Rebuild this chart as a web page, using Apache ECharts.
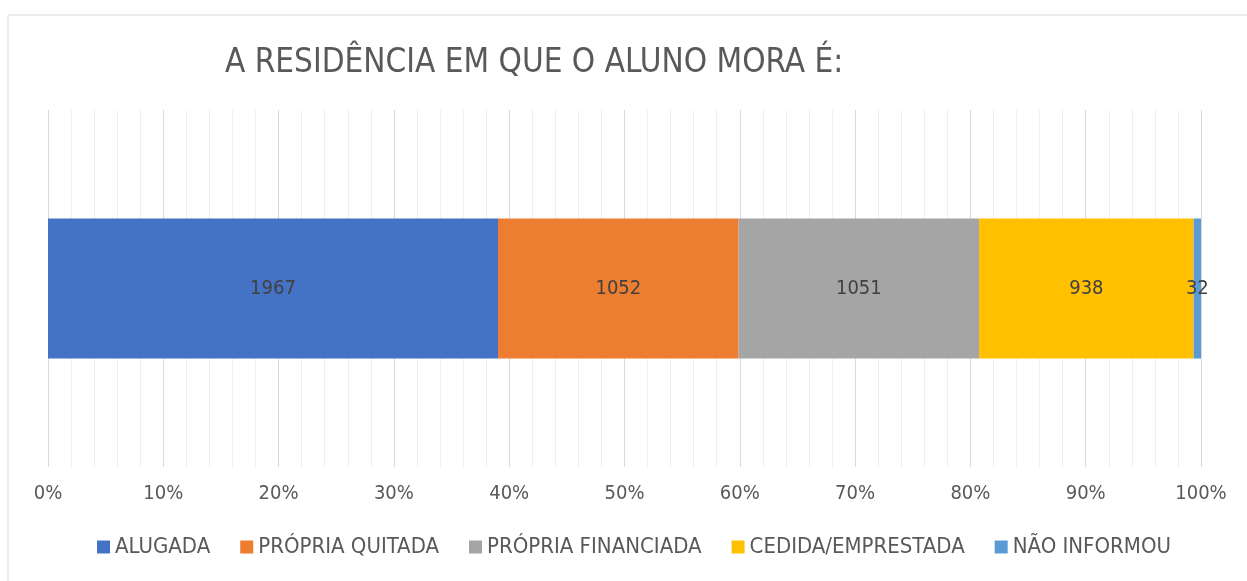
<!DOCTYPE html>
<html>
<head>
<meta charset="UTF-8">
<title>A residência em que o aluno mora</title>
<script src="https://cdn.jsdelivr.net/npm/echarts@6/dist/echarts.min.js"></script>
<style>
	html, body { margin: 0; padding: 0; background: #fff; }
	#container { width: 1247px; height: 581px; }
</style>
</head>
<body>
	<div id="container"></div>
	<script type="text/javascript">
		// dados
		var categorias = ['Residência'];
		var nomes = ['ALUGADA', 'PRÓPRIA QUITADA', 'PRÓPRIA FINANCIADA', 'CEDIDA/EMPRESTADA', 'NÃO INFORMOU'];
		var valores = [1967, 1052, 1051, 938, 32];
		var cores = ['#4472C4', '#ED7D31', '#A5A5A5', '#FFC000', '#5B9BD5'];
		var ticksX = [0, 10, 20, 30, 40, 50, 60, 70, 80, 90, 100];

		var fonte = "'Liberation Sans Narrow', 'DejaVu Sans Condensed', 'Open Sans', sans-serif";
		var total = 0;
		for (var i = 0; i < valores.length; i++) {
			total += valores[i];
		}

		var series = [];
		for (var k = 0; k < nomes.length; k++) {
			(function(k) {
				series.push({
					name : nomes[k],
					type : 'bar',
					stack : 'total',
					barWidth : 140,
					itemStyle : { color : cores[k] },
					label : {
						show : true,
						position : 'inside',
						color : '#404040',
						fontFamily : fonte,
						fontSize : 20,
						formatter : function() {
							return valores[k];
						}
					},
					data : [ valores[k] / total * 100 ]
				});
			})(k);
		}

		var dom = document.getElementById("container");
		var myChart = echarts.init(dom);
		var option = {
			animation : false,
			title : {
				text : 'A RESIDÊNCIA EM QUE O ALUNO MORA É:',
				left : 220,
				top : 42,
				textStyle : {
					fontFamily : fonte,
					fontWeight : 'normal',
					fontSize : 33,
					color : '#595959'
				}
			},
			legend : {
				bottom : 18,
				left : 92,
				itemWidth : 13,
				itemHeight : 13,
				itemGap : 30,
				icon : 'rect',
				textStyle : {
					fontFamily : fonte,
					fontSize : 22,
					color : '#595959',
					padding : [0, 0, 0, 0]
				},
				data : nomes
			},
			graphic : [ {
				type : 'rect',
				shape : { x : 8, y : 15, width : 1245, height : 570 },
				style : { fill : 'none', stroke : '#d9d9d9', lineWidth : 1 },
				silent : true
			} ],
			grid : {
				left : 48,
				right : 46,
				top : 110,
				bottom : 114
			},
			xAxis : {
				type : 'value',
				min : ticksX[0],
				max : ticksX[ticksX.length - 1],
				interval : 10,
				axisLine : { show : false },
				axisTick : { show : false },
				axisLabel : {
					margin : 17,
					fontFamily : fonte,
					fontSize : 20,
					color : '#595959',
					formatter : '{value}%'
				},
				splitLine : {
					show : true,
					lineStyle : { color : '#d9d9d9', width : 1 }
				},
				minorTick : { show : false, splitNumber : 5 },
				minorSplitLine : {
					show : true,
					lineStyle : { color : '#efefef', width : 1 }
				}
			},
			yAxis : {
				type : 'category',
				data : categorias,
				axisLine : { show : false },
				axisTick : { show : false },
				axisLabel : { show : false },
				splitLine : { show : false }
			},
			series : series
		};

		if (option && typeof option === "object") {
			myChart.setOption(option, true);
		}
	</script>
</body>
</html>
